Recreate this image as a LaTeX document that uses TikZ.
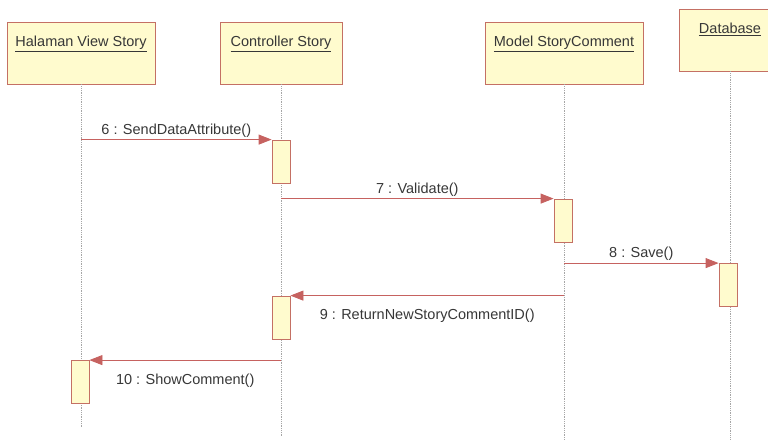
\documentclass[tikz,border=0pt]{standalone}
\usepackage{fontspec}
\setmainfont{Liberation Sans}
\usepackage{xcolor}
\usetikzlibrary{arrows.meta, positioning, calc}

\definecolor{boxfill}{RGB}{255,251,206}
\definecolor{boxline}{RGB}{196,112,100}
\definecolor{msgline}{RGB}{198,98,96}
\definecolor{txt}{RGB}{55,55,55}

\begin{document}
\begin{tikzpicture}[x=1pt, y=-1pt,
    font=\fontsize{14.5}{16}\selectfont, text=txt,
    objbox/.style={rectangle, draw=boxline, fill=boxfill, thick, minimum height=62pt, inner sep=0pt, text height=25pt, text depth=37pt},
    actbox/.style={rectangle, draw=boxline, fill=boxfill, thick, minimum width=18pt, minimum height=43pt, inner sep=0pt},
    lifeline/.style={draw=gray!70, densely dotted, thick},
    line/.style={draw=msgline, thick, -{Triangle[length=13pt, width=10pt]}},
    msglabel/.style={inner sep=2pt}]
    \useasboundingbox (0,0) rectangle (768,446);

    \node [objbox, minimum width=148pt] (hv) at (81,53) {\underline{Halaman View Story}};
    \node [objbox, minimum width=122pt] (ctl) at (281,53) {\underline{Controller Story}};
    \node [objbox, minimum width=158pt] (mdl) at (564,53) {\underline{Model StoryComment}};
    \node [objbox, minimum width=102pt] (db) at (730,40) {\underline{Database}};

    \coordinate (hvend) at (81,428);
    \coordinate (ctlend) at (281,437);
    \coordinate (mdlend) at (564,440);
    \coordinate (dbend) at (730,440);

    \path [lifeline] (hv.south) -- (hvend);
    \path [lifeline] (ctl.south) -- (ctlend);
    \path [lifeline] (mdl.south) -- (mdlend);
    \path [lifeline] (db.south) -- (dbend);

    \node [actbox] (act1) at (281,161.5) {};
    \node [actbox] (act2) at (563,220.5) {};
    \node [actbox] (act3) at (728,285) {};
    \node [actbox] (act4) at (281,317.5) {};
    \node [actbox] (act5) at (80,382) {};

    \path [line] (hv |- act1.north) -- node [msglabel, above] {6 : SendDataAttribute()} (act1.north west);
    \path [line] (ctl |- act2.north) -- node [msglabel, above] {7 : Validate()} (act2.north west);
    \path [line] (mdl |- act3.north) -- node [msglabel, above] {8 : Save()} (act3.north west);
    \path [line] (mdl |- act4.north) -- node [msglabel, below, yshift=-11pt] {9 : ReturnNewStoryCommentID()} (act4.north east);
    \path [line] (ctl |- act5.north) -- node [msglabel, below, yshift=-11pt] {10 : ShowComment()} (act5.north east);
\end{tikzpicture}
\end{document}
